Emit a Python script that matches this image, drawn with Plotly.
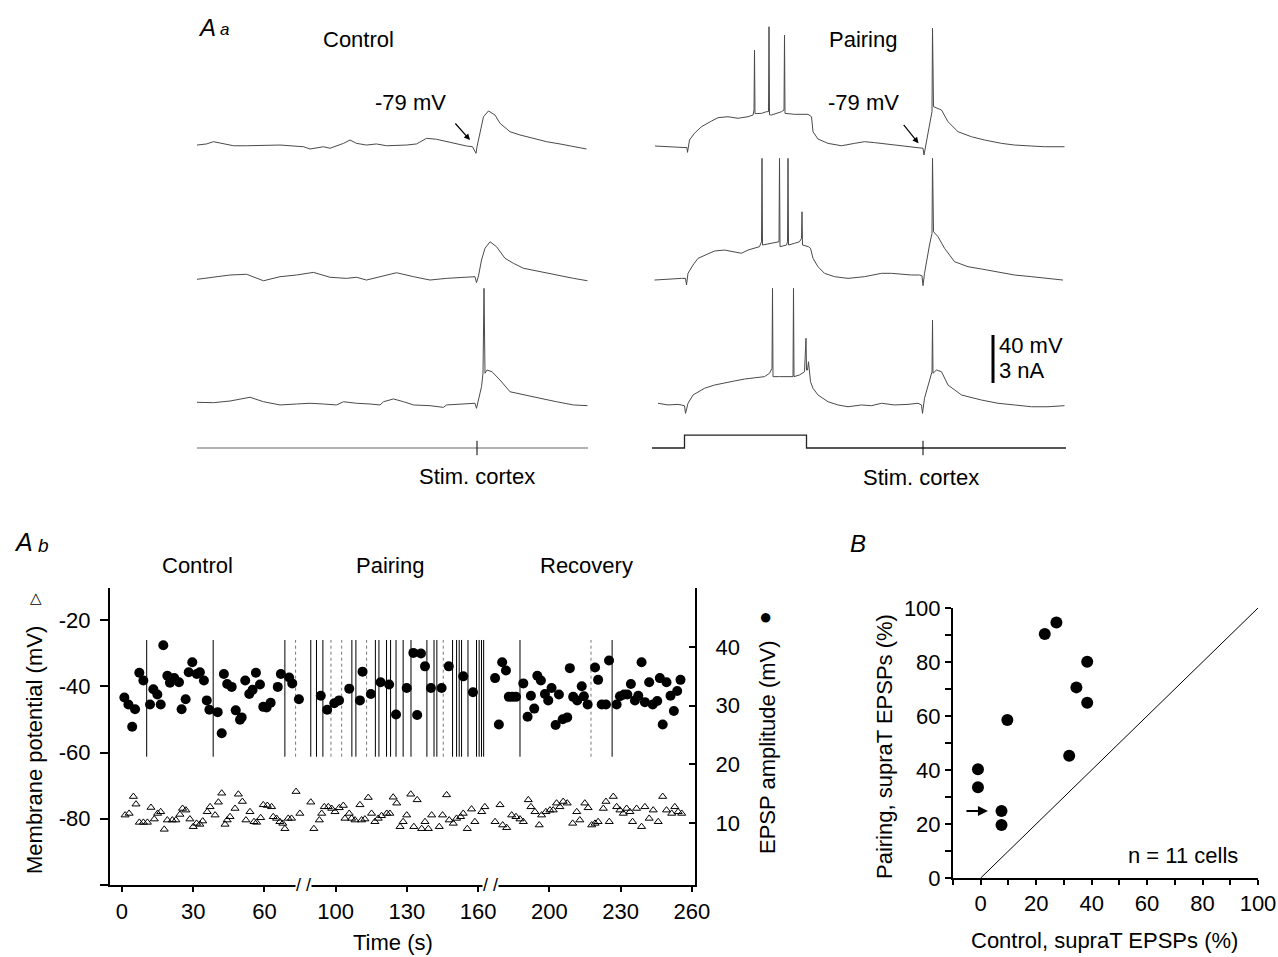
import plotly.graph_objects as go

W, H = 1278, 957
FONT = "Liberation Sans, Arial, Helvetica, sans-serif"
FS = 22

# ================= Panel Aa : example traces =================
# time in ms, membrane potential in mV
ctrl1_t = [0, 19, 33, 53, 73, 99, 133, 166, 186, 213, 226, 239, 253, 266, 279, 293, 306, 319, 339, 359,
           379, 399, 419, 439, 459, 479, 499, 519, 539, 551, 558, 560, 566, 573, 583, 596, 606, 626, 646, 673,
           699, 726, 753, 779]
ctrl1_v = [-78.2, -77.3, -75.4, -76.8, -78.8, -78.8, -78.2, -78.2, -78.8, -79.6, -81.5, -80.4, -79.6, -80.9,
           -78.8, -76.8, -74.0, -76.8, -78.2, -77.3, -78.8, -78.8, -78.2, -77.3, -72.6, -73.4, -75.4, -77.3,
           -79.0, -79.6, -85.1, -79.6, -67.1, -54.6, -49.8, -53.2, -60.1, -67.1, -69.8, -72.6, -75.4, -77.3,
           -79.6, -81.5]

ctrl2_t = [0, 33, 66, 99, 133, 166, 199, 233, 239, 266, 299, 319, 339, 373, 399, 433, 466, 499, 533, 556,
           559, 563, 569, 576, 586, 599, 616, 633, 653, 686, 719, 753, 781]
ctrl2_v = [-80.1, -78.4, -76.5, -75.9, -81.3, -77.9, -76.5, -74.3, -75.1, -78.4, -79.3, -78.4, -80.7, -77.3,
           -74.6, -77.9, -80.7, -79.3, -78.4, -77.9, -82.9, -77.3, -64.0, -54.2, -48.8, -52.9, -62.6, -66.8,
           -70.9, -73.8, -76.5, -79.3, -81.3]

ctrl3_t = [0, 33, 66, 106, 133, 166, 199, 226, 253, 279, 293, 319, 346, 366, 373, 393, 413, 433, 466, 493,
           499, 533, 556, 559, 563, 569, 572, 574, 576, 580, 590, 606, 626, 653, 686, 719, 753, 781]
ctrl3_v = [-77.6, -77.9, -76.5, -73.4, -77.1, -79.8, -79.0, -78.4, -79.0, -79.8, -77.1, -78.4, -79.0, -79.8,
           -77.1, -74.8, -77.1, -79.8, -80.4, -81.8, -79.8, -79.0, -78.4, -82.6, -75.7, -64.6, -53.4, 17.4,
           -53.4, -50.7, -52.1, -59.0, -68.8, -71.5, -74.2, -77.1, -79.8, -80.4]

pair1_t = [6, 32, 52, 65, 70, 71, 75, 85, 99, 119, 132, 152, 172, 192, 202, 204, 205, 206, 219, 229,
           233, 234, 235, 239, 249, 259, 264, 265, 266, 285, 312, 319, 322, 332, 352, 379, 405, 425, 445, 472,
           499, 519, 532, 542, 544, 547, 555, 560, 561, 563, 579, 592, 612, 639, 665, 699, 725, 759, 785, 825]
pair1_v = [-79.0, -79.6, -80.4, -80.9, -80.4, -84.3, -74.0, -68.4, -62.9, -58.2, -55.4, -54.6, -55.9, -54.6,
           -53.2, -49.0, 1.0, -52.0, -51.8, -50.4, -50.4, 20.4, -53.0, -53.2, -51.8, -50.4, -49.0, 13.5,
           -51.8, -52.6, -52.6, -54.6, -67.1, -73.2, -76.8, -78.8, -76.8, -75.4, -76.2, -77.6, -78.8, -79.6,
           -80.4, -80.9, -86.5, -78.8, -61.5, -50.4, 19.1, -46.2, -49.0, -58.8, -67.1, -71.3, -74.0, -76.8,
           -78.2, -79.0, -79.6, -79.6]

pair2_t = [5, 32, 59, 67, 69, 72, 82, 92, 109, 125, 145, 165, 179, 192, 205, 215, 219, 220, 221, 239,
           254, 255, 256, 269, 271, 272, 273, 285, 295, 299, 300, 301, 313, 317, 322, 332, 345, 365, 392, 425,
           459, 479, 499, 519, 535, 540, 542, 545, 555, 560, 561, 563, 572, 585, 605, 632, 659, 692, 725, 759,
           792, 822]
pair2_v = [-80.7, -79.8, -79.3, -79.3, -84.8, -75.1, -68.2, -62.6, -59.8, -56.5, -55.7, -57.6, -58.4, -55.7,
           -54.2, -52.9, -48.8, 20.7, -51.5, -50.1, -48.8, 20.7, -52.9, -51.5, -48.8, 20.7, -51.5, -50.1,
           -48.8, -45.9, -23.8, -51.5, -52.9, -54.2, -62.6, -69.6, -75.1, -77.9, -79.3, -77.9, -75.1, -75.1,
           -75.9, -76.5, -76.5, -77.1, -85.4, -75.1, -51.5, -41.8, 20.7, -40.4, -44.6, -54.2, -65.4, -69.6,
           -71.5, -73.8, -76.5, -77.9, -79.3, -80.7]

pair3_t = [12, 32, 52, 65, 67, 72, 82, 92, 105, 125, 145, 165, 185, 205, 225, 235, 240, 241, 242, 255,
           282, 283, 284, 295, 305, 308, 309, 311, 313, 317, 322, 332, 352, 372, 392, 419, 439, 459, 485, 512,
           532, 539, 541, 545, 555, 560, 561, 562, 569, 579, 592, 619, 659, 692, 725, 759, 792, 825]
pair3_v = [-78.4, -79.8, -79.3, -80.4, -86.8, -78.4, -71.5, -68.8, -65.9, -63.2, -61.8, -59.8, -58.2, -57.1,
           -56.2, -53.4, -49.2, 17.4, -56.2, -56.2, -56.2, 17.4, -56.2, -54.8, -52.1, -24.2, -50.7, -50.7,
           -43.8, -60.4, -65.9, -71.5, -77.1, -79.8, -81.3, -79.8, -80.4, -78.4, -79.8, -79.3, -78.4, -79.8,
           -86.8, -74.2, -60.4, -52.1, -9.0, -53.4, -50.7, -52.1, -63.2, -71.5, -75.7, -78.4, -79.8, -81.3,
           -81.3, -80.4]

# injected current (nA)
ctrl_cur_t = [0, 782]
ctrl_cur = [0, 0]
pair_cur_t = [0, 65, 65, 309, 309, 828]
pair_cur = [0, 0, 0.8, 0.8, 0, 0]
stim_ctrl_ms = 560
stim_pair_ms = 542
scale_mv = 40

# ================= Panel Ab : time course =================
time_tick_labels = ['0', '30', '60', '100', '130', '160', '200', '230', '260']
# time positions on the broken axis (one label interval = 30 units)
epsp_t = [1.0, 2.7, 4.3, 5.5, 7.3, 9.0, 11.8, 13.2, 14.9, 16.3, 17.4, 19.1, 20.2, 22.0, 24.0, 25.1, 26.8,
          28.1, 29.6, 31.5, 32.8, 34.5, 35.7, 36.8, 40.3, 42.0, 42.9, 44.3, 46.2, 47.9, 49.7, 50.4, 51.9,
          53.6, 55.0, 56.4, 58.1, 59.5, 60.9, 62.6, 65.6, 66.9, 70.4, 71.7, 74.5, 83.7, 86.4, 89.4, 91.4,
          95.7, 100.2, 101.3, 104.8, 108.9, 112.5, 115.4, 119.9, 122.7, 124.3, 125.9, 127.6, 130.1, 134.6,
          137.6, 143.7, 147.8, 157.1, 158.7, 160.1, 161.7, 162.9, 164.3, 165.9, 169.0, 170.8, 172.2, 173.6,
          174.9, 176.4, 178.1, 179.5, 180.9, 182.6, 184.0, 185.6, 187.5, 188.6, 190.0, 191.7, 193.6, 194.5,
          196.1, 199.2, 200.5, 202.0, 203.8, 205.1, 208.3, 209.7, 211.4, 212.8, 214.3, 216.0, 217.4, 218.8,
          220.2, 222.0, 223.5, 225.4, 226.5, 227.7, 229.3, 231.0, 232.4, 233.8, 235.2]
epsp_amp = [31.4, 30.2, 26.4, 29.4, 35.6, 34.3, 30.2, 32.8, 31.9, 30.2, 40.3, 35.1, 33.9, 34.7, 34.0, 29.4,
            31.1, 35.7, 37.4, 35.4, 35.7, 34.3, 30.9, 29.3, 28.9, 25.3, 35.4, 33.7, 33.2, 29.2, 27.6, 28.0,
            34.3, 32.0, 32.7, 35.6, 33.6, 29.8, 29.7, 30.5, 33.2, 35.4, 34.8, 33.8, 31.1, 31.7, 29.3, 30.4,
            30.9, 32.9, 30.9, 35.8, 32.0, 34.0, 33.6, 28.5, 33.0, 39.0, 28.4, 38.9, 36.7, 33.0, 33.0, 36.7,
            35.0, 32.3, 34.7, 26.8, 37.4, 36.0, 31.5, 31.5, 31.5, 33.8, 28.1, 31.7, 29.5, 35.1, 34.3, 32.0,
            30.9, 33.0, 26.7, 31.9, 27.7, 28.0, 36.4, 31.5, 30.9, 33.3, 31.6, 30.2, 36.5, 34.4, 30.2, 30.2,
            37.7, 30.2, 31.6, 31.9, 31.9, 33.7, 30.9, 31.7, 37.4, 30.6, 34.0, 30.2, 30.8, 34.7, 26.8, 34.0,
            31.7, 29.1, 32.5, 34.4]

vm_t = [1.3, 3.0, 4.8, 5.9, 7.3, 9.0, 10.7, 12.2, 13.6, 15.0, 16.3, 17.8, 19.1, 21.2, 22.7, 24.4, 25.5,
        26.9, 28.6, 30.0, 31.4, 32.8, 34.0, 35.9, 37.1, 39.2, 40.6, 42.0, 43.4, 44.3, 45.5, 47.6, 49.0,
        50.7, 52.2, 53.9, 55.6, 56.7, 58.4, 59.5, 61.2, 63.0, 63.7, 65.1, 66.5, 67.7, 68.6, 70.0, 71.4,
        73.3, 74.9,
        79.5, 80.8, 83.1, 84.1, 85.2, 86.9, 88.3, 89.7, 91.5, 93.2, 93.9, 95.7, 96.7, 98.1, 100.2, 100.9,
        102.3, 103.7, 105.1, 106.5, 107.9, 109.3, 111.5, 112.8, 114.2, 115.7, 117.1, 118.4, 119.9, 121.6,
        122.9, 124.3, 126.2, 127.6, 129.0, 130.4, 133.6, 135.0, 136.7, 137.8, 139.5, 140.9, 142.6, 143.7,
        145.4, 147.2, 148.6, 151.5, 152.8,
        157.1, 159.2, 160.3, 162.0, 164.1, 165.9, 167.6, 169.0, 171.1, 172.2, 173.9, 175.7, 176.7, 178.5,
        180.2, 181.6, 183.0, 184.4, 185.8, 187.5, 189.8, 191.5, 192.8, 194.9, 196.3, 197.8, 199.2, 200.5,
        202.7, 203.8, 205.2, 206.9, 208.3, 209.7, 211.1, 212.5, 213.9, 215.0, 216.7, 218.8, 220.2, 222.0,
        223.7, 225.8, 227.7, 229.3, 231.5, 232.8, 234.2, 235.7]
vm = [-78.9, -78.4, -73.3, -75.6, -81.1, -81.1, -81.1, -76.6, -80.1, -78.4, -77.9, -83.2, -80.4, -80.4,
      -80.4, -78.7, -76.9, -77.4, -80.1, -82.4, -81.4, -81.7, -80.7, -77.9, -76.4, -78.9, -75.0, -72.3,
      -81.7, -80.4, -79.4, -76.9, -72.6, -74.8, -80.4, -77.9, -80.9, -81.1, -79.7, -75.8, -76.0, -76.4,
      -79.4, -79.9, -80.9, -81.4, -83.0, -79.9, -79.9, -71.8, -78.4,
      -75.0, -83.0, -80.4, -78.4, -76.4, -76.4, -76.9, -77.9, -76.7, -76.0, -79.9, -78.4, -79.9, -80.4,
      -75.8, -80.4, -80.1, -73.6, -78.4, -80.9, -79.9, -79.1, -78.4, -78.4, -73.5, -75.3, -82.4, -80.9,
      -78.9, -72.6, -82.4, -74.3, -83.0, -80.9, -83.0, -78.9, -82.4, -78.9, -72.8, -80.4, -81.4, -79.9,
      -79.4, -78.4, -83.0, -77.1, -80.9, -77.9, -76.4,
      -80.9, -75.8, -81.9, -82.7, -78.9, -79.4, -80.1, -80.9, -74.3, -76.4, -77.9, -81.9, -78.9, -77.9,
      -77.4, -77.4, -75.3, -76.4, -74.8, -75.3, -81.4, -77.9, -80.4, -75.3, -76.7, -81.9, -81.4, -80.9,
      -76.9, -74.8, -80.9, -73.3, -76.4, -77.4, -78.4, -76.9, -77.9, -80.9, -76.9, -82.4, -76.4, -79.9,
      -77.4, -80.9, -73.3, -77.4, -78.4, -76.4, -77.9, -78.4]

# supra-threshold events (vertical lines)
supra_t = [10.4, 38.4, 68.6, 79.5, 81.9, 84.6, 96.8, 98.5, 106.7, 108.2, 111.4, 113.1, 115.4, 118.4,
           121.7, 128.4, 131.4, 132.6, 139.2, 140.9, 142.0, 143.0, 145.7, 149.3, 150.4, 151.4, 152.3,
           167.6, 206.4]
supra_t_faint = [73.1, 88.0, 92.5, 103.0, 135.3, 197.5]
time_breaks = [76.6, 155.0]

# ================= Panel B =================
ctrl_supra_pct = [-1, -1, 7.5, 7.5, 9.6, 23.1, 27.3, 38.4, 34.5, 38.4, 31.9]
pair_supra_pct = [40.3, 33.6, 24.8, 19.6, 58.5, 90.4, 94.6, 80.1, 70.6, 64.9, 45.3]
unity = [0, 100]


# ---------------- helpers (layout positions in pixels) ----------------
def px_x(px):
    return px / W


def px_y(py):
    return 1 - py / H


MV_PX = 1.2  # pixels per mV in the example traces


def trace_yaxis(baseline_py, xname):
    return dict(domain=[px_y(baseline_py + 20), px_y(baseline_py - 130)],
                range=[-79 - 20 / MV_PX, -79 + 130 / MV_PX], visible=False, anchor=xname,
                fixedrange=True)


fig = go.Figure()
LINE = dict(color='#4a4a4a', width=1)


def add_line(x, y, xa, ya, line=LINE):
    fig.add_trace(go.Scatter(x=x, y=y, xaxis=xa, yaxis=ya, mode='lines', line=line,
                             hoverinfo='skip', showlegend=False))


# Aa traces
add_line(ctrl1_t, ctrl1_v, 'x3', 'y4')
add_line(ctrl2_t, ctrl2_v, 'x3', 'y5')
add_line(ctrl3_t, ctrl3_v, 'x3', 'y6')
add_line(ctrl_cur_t, ctrl_cur, 'x3', 'y7', dict(color='#666', width=1))
add_line([stim_ctrl_ms, stim_ctrl_ms], [-0.45, 0.45], 'x3', 'y7', dict(color='black', width=1))
add_line(pair1_t, pair1_v, 'x4', 'y8')
add_line(pair2_t, pair2_v, 'x4', 'y9')
add_line(pair3_t, pair3_v, 'x4', 'y10')
add_line(pair_cur_t, pair_cur, 'x4', 'y11', dict(color='#222', width=1.3))
add_line([stim_pair_ms, stim_pair_ms], [-0.45, 0.45], 'x4', 'y11', dict(color='black', width=1))
# scale bar (40 mV / 3 nA)
SB_T = 682
SB_TOP = -21.5
add_line([SB_T, SB_T], [SB_TOP, SB_TOP - scale_mv], 'x4', 'y10', dict(color='black', width=3))

# Ab supra-threshold lines
SUP_LO, SUP_HI = 21.3, 41.2
xs, ys = [], []
for t in supra_t:
    xs += [t, t, None]
    ys += [SUP_LO, SUP_HI, None]
add_line(xs, ys, 'x', 'y2', dict(color='black', width=1))
xs, ys = [], []
for t in supra_t_faint:
    xs += [t, t, None]
    ys += [SUP_LO, SUP_HI, None]
add_line(xs, ys, 'x', 'y2', dict(color='#777', width=1, dash='dot'))

fig.add_trace(go.Scatter(x=epsp_t, y=epsp_amp, xaxis='x', yaxis='y2', mode='markers',
                         marker=dict(symbol='circle', size=10, color='black'),
                         hoverinfo='skip', showlegend=False))
fig.add_trace(go.Scatter(x=vm_t, y=vm, xaxis='x', yaxis='y', mode='markers',
                         marker=dict(symbol='triangle-up-open', size=7, color='black',
                                     line=dict(width=1, color='black')),
                         hoverinfo='skip', showlegend=False))

# B
add_line(unity, unity, 'x2', 'y3', dict(color='black', width=1))
fig.add_trace(go.Scatter(x=ctrl_supra_pct, y=pair_supra_pct, xaxis='x2', yaxis='y3', mode='markers',
                         marker=dict(symbol='circle', size=12, color='black'),
                         hoverinfo='skip', showlegend=False))

AXC = dict(showgrid=False, zeroline=False, showline=True, linecolor='black', linewidth=2,
           tickcolor='black', tickwidth=1.5, fixedrange=True, automargin=False,
           tickfont=dict(size=FS, family=FONT))

layout = dict(
    width=W, height=H, autosize=False,
    margin=dict(l=0, r=0, t=0, b=0, pad=0, autoexpand=False),
    paper_bgcolor='white', plot_bgcolor='rgba(0,0,0,0)',
    font=dict(family=FONT, size=FS, color='black'), showlegend=False,
    # Ab
    xaxis=dict(AXC, domain=[px_x(110), px_x(695)], range=[-5.05, 241.3], anchor='y',
               tickmode='array', tickvals=[30 * i for i in range(len(time_tick_labels))],
               ticktext=time_tick_labels, ticks='outside', ticklen=5, ticklabelstandoff=1),
    yaxis=dict(AXC, domain=[px_y(885), px_y(588)], range=[-100, -10.34], anchor='x',
               tickmode='array', tickvals=[-20, -40, -60, -80, -100], ticktext=['-20', '-40', '-60', '-80', ''],
               ticks='outside', ticklen=8, ticklabelstandoff=5),
    yaxis2=dict(AXC, overlaying='y', side='right', anchor='x', range=[-0.57, 50.06],
                tickmode='array', tickvals=[10, 20, 30, 40], ticks='inside', ticklen=6,
                ticklabelstandoff=14),
    # B
    xaxis2=dict(AXC, domain=[px_x(953), px_x(1258)], range=[-10, 100], anchor='y3',
                tickmode='array', tickvals=list(range(-10, 101, 10)),
                ticktext=['' if v % 20 else str(v) for v in range(-10, 101, 10)],
                ticks='outside', ticklen=5, ticklabelstandoff=0),
    yaxis3=dict(AXC, domain=[px_y(878), px_y(608)], range=[0, 100], anchor='x2',
                tickmode='array', tickvals=list(range(0, 101, 10)),
                ticktext=['' if v % 20 else str(v) for v in range(0, 101, 10)],
                ticks='outside', ticklen=6, ticklabelstandoff=0),
    # Aa hidden axes
    xaxis3=dict(domain=[px_x(197), px_x(588)], range=[0, 782], visible=False, anchor='y4', fixedrange=True),
    xaxis4=dict(domain=[px_x(652), px_x(1070)], range=[0, 836], visible=False, anchor='y8', fixedrange=True),
    yaxis4=trace_yaxis(146, 'x3'),
    yaxis5=trace_yaxis(278, 'x3'),
    yaxis6=trace_yaxis(404, 'x3'),
    yaxis7=dict(domain=[px_y(470), px_y(420)], range=[-1.375, 1.75], visible=False, anchor='x3', fixedrange=True),
    yaxis8=trace_yaxis(146, 'x4'),
    yaxis9=trace_yaxis(278, 'x4'),
    yaxis10=trace_yaxis(404, 'x4'),
    yaxis11=dict(domain=[px_y(470), px_y(420)], range=[-1.375, 1.75], visible=False, anchor='x4', fixedrange=True),
)
fig.update_layout(**layout)

ann = []


def txt(s, px, py, size=FS, angle=0, xanchor='center', yanchor='middle'):
    ann.append(dict(text=s, x=px_x(px), y=px_y(py), xref='paper', yref='paper', showarrow=False,
                    font=dict(size=size, family=FONT, color='black'), textangle=angle,
                    xanchor=xanchor, yanchor=yanchor))


# Aa text
txt('<i>A</i>', 207, 27, size=24)
txt('<i>a</i>', 224, 30, size=17)
txt('Control', 358, 40)
txt('Pairing', 863, 40)
txt('-79 mV', 410, 103)
txt('-79 mV', 863, 102)
txt('Stim. cortex', 477, 476)
txt('Stim. cortex', 921, 477)
txt('40 mV', 997, 345, xanchor='left')
txt('3 nA', 997, 370, xanchor='left')
# Ab text
txt('<i>A</i>', 23, 542, size=25)
txt('<i>b</i>', 43, 545, size=19)
txt('Control', 197, 565)
txt('Pairing', 390, 565)
txt('Recovery', 586, 565)
txt('Membrane potential (mV)', 34, 750, angle=-90)
txt('\u25b3', 36, 597, size=15)
txt('EPSP amplitude (mV)', 767, 747, angle=-90)
txt('\u25cf', 765, 616, size=22)
txt('Time (s)', 393, 942)
# B text
txt('<i>B</i>', 858, 543, size=24)
txt('Pairing, supraT EPSPs (%)', 884, 747, angle=-90)
txt('Control, supraT EPSPs (%)', 1104, 940)
txt('n = 11 cells', 1183, 855)

# axis breaks
for b in time_breaks:
    ann.append(dict(text='/ /', x=b, xref='x', y=px_y(885), yref='paper', showarrow=False,
                    xanchor='center', yanchor='middle',
                    font=dict(size=18, family=FONT, color='black'), bgcolor='white', borderpad=0))

# arrows
ann.append(dict(text='', x=546, y=-74, xref='x3', yref='y4', ax=-16, ay=-18, showarrow=True,
                arrowhead=2, arrowsize=1, arrowwidth=1.2, arrowcolor='black'))
ann.append(dict(text='', x=533, y=-76.8, xref='x4', yref='y8', ax=-16, ay=-20, showarrow=True,
                arrowhead=2, arrowsize=1, arrowwidth=1.2, arrowcolor='black'))
ann.append(dict(text='', x=2.6, y=24.8, xref='x2', yref='y3', ax=-23, ay=0, showarrow=True,
                arrowhead=2, arrowsize=1, arrowwidth=2, arrowcolor='black'))

fig.update_layout(annotations=ann)

# make the page exactly the size of the figure (no body margin, no stray text line, no scrollbars)
pin = """
try { var de=document.documentElement; de.style.margin='0'; de.style.padding='0'; de.style.overflow='hidden'; } catch(e) {}
try { var bd=document.body; bd.style.margin='0'; bd.style.padding='0'; bd.style.overflow='hidden'; } catch(e) {}
try {
  var gd=document.querySelector('.plotly-graph-div');
  var par=gd.parentElement; par.style.fontSize='0px'; par.style.lineHeight='0px'; par.style.margin='0'; par.style.padding='0';
  gd.style.position='absolute'; gd.style.left='0px'; gd.style.top='0px'; gd.style.margin='0';
} catch(e) {}
"""
fig.write_html("out.html", config={'displayModeBar': False}, post_script=pin)
